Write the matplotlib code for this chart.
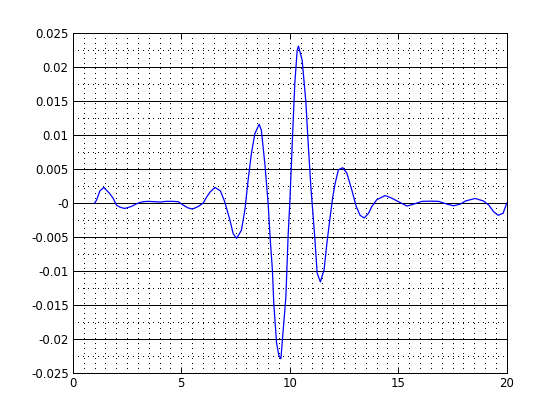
import matplotlib
matplotlib.use("Agg")
import matplotlib.pyplot as plt
from matplotlib.ticker import MultipleLocator, FuncFormatter

# ---- data ----
x_vals = [1.0, 1.09, 1.25, 1.43, 1.70, 1.86, 2.01, 2.17, 2.39, 2.70, 3.01, 3.24, 3.47,
          3.80, 4.05, 4.28, 4.60, 4.86, 5.09, 5.30, 5.52, 5.78, 6.01, 6.17, 6.32, 6.55,
          6.80, 7.0, 7.24, 7.39, 7.55, 7.77, 7.93, 8.08, 8.23, 8.39, 8.59, 8.69, 8.85,
          9.0, 9.11, 9.20, 9.26, 9.39, 9.50, 9.59, 9.66, 9.82, 9.92, 10.0, 10.12, 10.23,
          10.34, 10.40, 10.57, 10.74, 10.83, 10.97, 11.15, 11.26, 11.41, 11.58, 11.71,
          11.86, 11.98, 12.09, 12.24, 12.44, 12.63, 12.86, 13.06, 13.24, 13.43, 13.63,
          13.78, 14.01, 14.39, 14.65, 15.01, 15.4, 15.71, 16.09, 16.5, 16.86, 17.24,
          17.55, 17.86, 18.09, 18.54, 18.93, 19.17, 19.40, 19.6, 19.83, 20.0]
y_milli = [0.0, 0.4, 1.8, 2.3, 1.4, 0.7, -0.3, -0.6, -0.8, -0.5, 0.0, 0.2, 0.25,
           0.2, 0.15, 0.25, 0.25, 0.2, -0.3, -0.7, -0.88, -0.5, 0.0, 0.9, 1.6, 2.3,
           1.8, 0.2, -2.5, -4.5, -5.2, -4.0, -1.0, 3.4, 7.3, 10.2, 11.6, 10.7, 5.8,
           0.0, -5.9, -9.9, -14.7, -20.6, -22.5, -22.9, -20.1, -13.8, -5.0, 0.0, 9.3, 17.6,
           22.5, 23.1, 21.0, 14.9, 9.7, 2.4, -5.0, -10.3, -11.6, -9.8, -5.9,
           -2.0, 0.9, 2.9, 4.9, 5.2, 4.4, 1.9, -0.5, -1.8, -2.2, -1.5,
           -0.5, 0.5, 1.1, 0.8, 0.2, -0.44, -0.15, 0.25, 0.28, 0.25, -0.15,
           -0.4, -0.15, 0.3, 0.68, 0.3, -0.3, -1.3, -1.8, -1.5, 0.0]
y_vals = [v / 1000.0 for v in y_milli]

x_limits = (0, 20)
y_limits = (-0.025, 0.025)
x_major_step = 5
x_minor_step = 0.5
y_major_step = 0.005
y_minor_step = 0.0025

fig = plt.figure(figsize=(5.6, 4.2), dpi=100)
ax = fig.add_axes([0.13, 0.112, 0.775, 0.809])

ax.plot(x_vals, y_vals, color=(0, 0, 1), linewidth=0.9, zorder=3)

ax.set_xlim(*x_limits)
ax.set_ylim(*y_limits)
ax.xaxis.set_major_locator(MultipleLocator(x_major_step))
ax.xaxis.set_minor_locator(MultipleLocator(x_minor_step))
ax.yaxis.set_major_locator(MultipleLocator(y_major_step))
ax.yaxis.set_minor_locator(MultipleLocator(y_minor_step))
ax.yaxis.set_major_formatter(FuncFormatter(lambda v, p: "%g" % round(v, 6)))
ax.xaxis.set_major_formatter(FuncFormatter(lambda v, p: "%g" % v))

dotted = (0, (1.0, 5.0))
ax.grid(True, which="major", axis="y", color="black", linestyle="-", linewidth=0.72, zorder=1)
ax.grid(True, which="minor", axis="y", color="black", linestyle=dotted, linewidth=0.72)
ax.grid(True, which="both", axis="x", color="black", linestyle=dotted, linewidth=0.72)
ax.set_axisbelow(True)

for axis in (ax.xaxis, ax.yaxis):
    for t in axis.get_minor_ticks() + axis.get_major_ticks():
        t.gridline.set_antialiased(False)

ax.tick_params(which="major", direction="in", length=4, width=0.72, top=True, right=True,
               labelsize=8.5, colors="black", pad=3)
ax.tick_params(which="minor", length=0)
for s in ax.spines.values():
    s.set_linewidth(0.72)
    s.set_color("black")

fig.savefig("out.png", dpi=100, facecolor="white")
